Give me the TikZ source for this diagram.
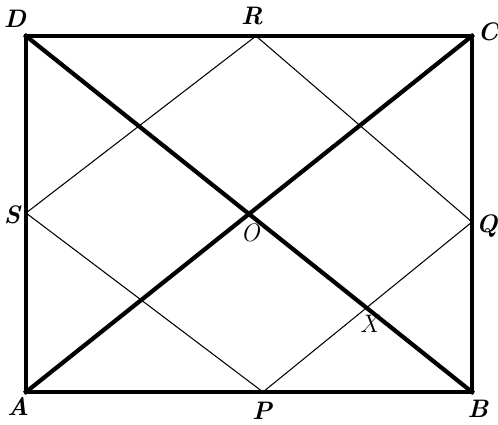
\documentclass[tikz,border=0pt]{standalone}
\usepackage{tikz}
\usetikzlibrary{positioning, calc}

\begin{document}
\begin{tikzpicture}[x=0.02cm, y=-0.02cm]
    % Define styles for the lines and labels
    \tikzstyle{side} = [line width=2.4pt, line cap=rect, line join=miter]
    \tikzstyle{rhomb} = [line width=0.6pt]
    \tikzstyle{lbl} = [font=\Large\bfseries\itshape, inner sep=1pt]
    \tikzstyle{lblthin} = [font=\Large\itshape, inner sep=1pt]

    \useasboundingbox (0,0) rectangle (498,425);

    % Corners
    \coordinate (A) at (26,392);
    \coordinate (B) at (472,392);
    \coordinate (C) at (472,36);
    \coordinate (D) at (26,36);

    % Midpoints
    \coordinate (P) at (263,392);
    \coordinate (Q) at (472,222);
    \coordinate (R) at (256,36);
    \coordinate (S) at (26,213);

    \coordinate (O) at ($(A)!0.5!(C)$);
    \coordinate (X) at ($(P)!0.5!(Q)$);

    % Rhombus PQRS
    \draw[rhomb] (P) -- (Q) -- (R) -- (S) -- cycle;

    % Rectangle and diagonals
    \draw[side] (A) -- (B) -- (C) -- (D) -- cycle;
    \draw[side] (A) -- (C);
    \draw[side] (B) -- (D);

    % Labels
    \node[lbl] (lab_d) at (15,19)  {D};
    \node[lbl] (lab_r) at (252,16) {R};
    \node[lbl] (lab_c) at (488,32) {C};
    \node[lbl] (lab_s) at (12,215) {S};
    \node[lbl] (lab_q) at (487,226) {Q};
    \node[lblthin] (lab_o) at (250,233) {O};
    \node[lblthin] (lab_x) at (369,324) {X};
    \node[lbl] (lab_a) at (18,407) {A};
    \node[lbl] (lab_p) at (262,411) {P};
    \node[lbl] (lab_b) at (478,409) {B};

\end{tikzpicture}
\end{document}
